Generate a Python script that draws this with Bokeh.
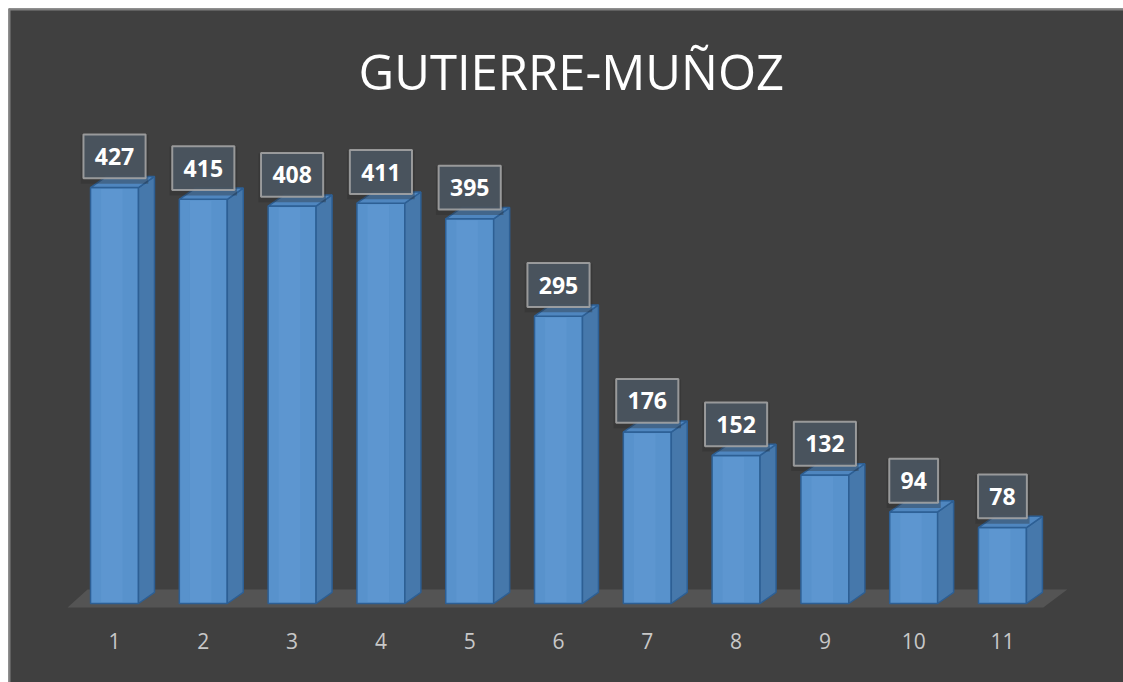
from bokeh.plotting import figure
from bokeh.models import Range1d, Span
from bokeh.core.properties import value
from bokeh.embed import file_html
from bokeh.resources import INLINE

# ---- data ----
title_text = "GUTIERRE-MUÑOZ"
categories = [1, 2, 3, 4, 5, 6, 7, 8, 9, 10, 11]
tick_labels = ["1", "2", "3", "4", "5", "6", "7", "8", "9", "10", "11"]
values = [427, 415, 408, 411, 395, 295, 176, 152, 132, 94, 78]

# ---- style / geometry ----
BG = "#404040"
FRONT = "#5892cc"
SIDE = "#4678ab"
TOP = "#4f86bf"
EDGE = "#2d5f94"
bar_w = 0.54
dx, dy = 0.18, 11.5
label_off = 32

p = figure(width=1123, height=682, output_backend="svg", toolbar_location=None,
           x_range=Range1d(-0.194, 12.363), y_range=Range1d(-81.1, 610.9),
           min_border=0, min_border_left=8, min_border_top=8,
           background_fill_color=BG, border_fill_color="white")
p.axis.visible = False
p.grid.visible = False
p.outline_line_color = None

# chart border (left and top edges visible in the reference)
p.add_layout(Span(location=p.x_range.start, dimension="height",
                  line_color="#808080", line_width=4))
p.add_layout(Span(location=p.y_range.end, dimension="width",
                  line_color="#808080", line_width=4))

# floor
x0, x1 = categories[0] - 0.529, categories[-1] + 0.46
p.patch([x0, x1, x1 + 0.27, x0 + 0.225], [-4, -4, 14.5, 14.5],
        fill_color="#545454", line_color=None)

# bars: front faces
p.vbar(x=categories, top=values, bottom=0, width=bar_w,
       fill_color=FRONT, line_color=EDGE, line_width=1.5)
# subtle highlight strip on the front faces
p.vbar(x=[c - 0.03 for c in categories], top=[v - 1.5 for v in values], bottom=1.5,
       width=bar_w * 0.45, fill_color="#6aa3dc", fill_alpha=0.25, line_color=None)

side_xs, side_ys, top_xs, top_ys = [], [], [], []
for c, v in zip(categories, values):
    r = c + bar_w / 2
    l = c - bar_w / 2
    side_xs.append([r, r + dx, r + dx, r])
    side_ys.append([0, dy, v + dy, v])
    top_xs.append([l, r, r + dx, l + dx])
    top_ys.append([v, v, v + dy, v + dy])
p.patches(side_xs, side_ys, fill_color=SIDE, line_color=EDGE, line_width=1.5)
p.patches(top_xs, top_ys, fill_color=TOP, line_color=EDGE, line_width=1.5)

# data label boxes
lab_y = [v + label_off for v in values]
box_w = [0.70 if len(str(v)) == 3 else 0.55 for v in values]
p.rect(x=categories, y=[y - 3 for y in lab_y], width=[b + 0.06 for b in box_w], height=50,
       fill_color="#2a2a2a", fill_alpha=0.35, line_color=None)
p.rect(x=categories, y=lab_y, width=box_w, height=45,
       fill_color="#4b5662", fill_alpha=0.9, line_color="#a8a8a8",
       line_alpha=0.85, line_width=2)
p.text(x=categories, y=lab_y, text=[str(v) for v in values],
       text_align="center", text_baseline="middle",
       text_font=value("Open Sans"), text_font_style="bold",
       text_font_size="23px", text_color="white")

# category tick labels
p.text(x=categories, y=[-38] * len(categories), text=tick_labels,
       text_align="center", text_baseline="middle",
       text_font=value("Open Sans"), text_font_size="21px", text_color="#c8c8c8")

# title
p.text(x=[(p.x_range.start + p.x_range.end) / 2 + 0.06], y=[547], text=[title_text],
       text_align="center", text_baseline="middle",
       text_font=value("Open Sans"), text_font_size="49px", text_color="white")

open("out.html", "w").write(file_html(p, INLINE))
